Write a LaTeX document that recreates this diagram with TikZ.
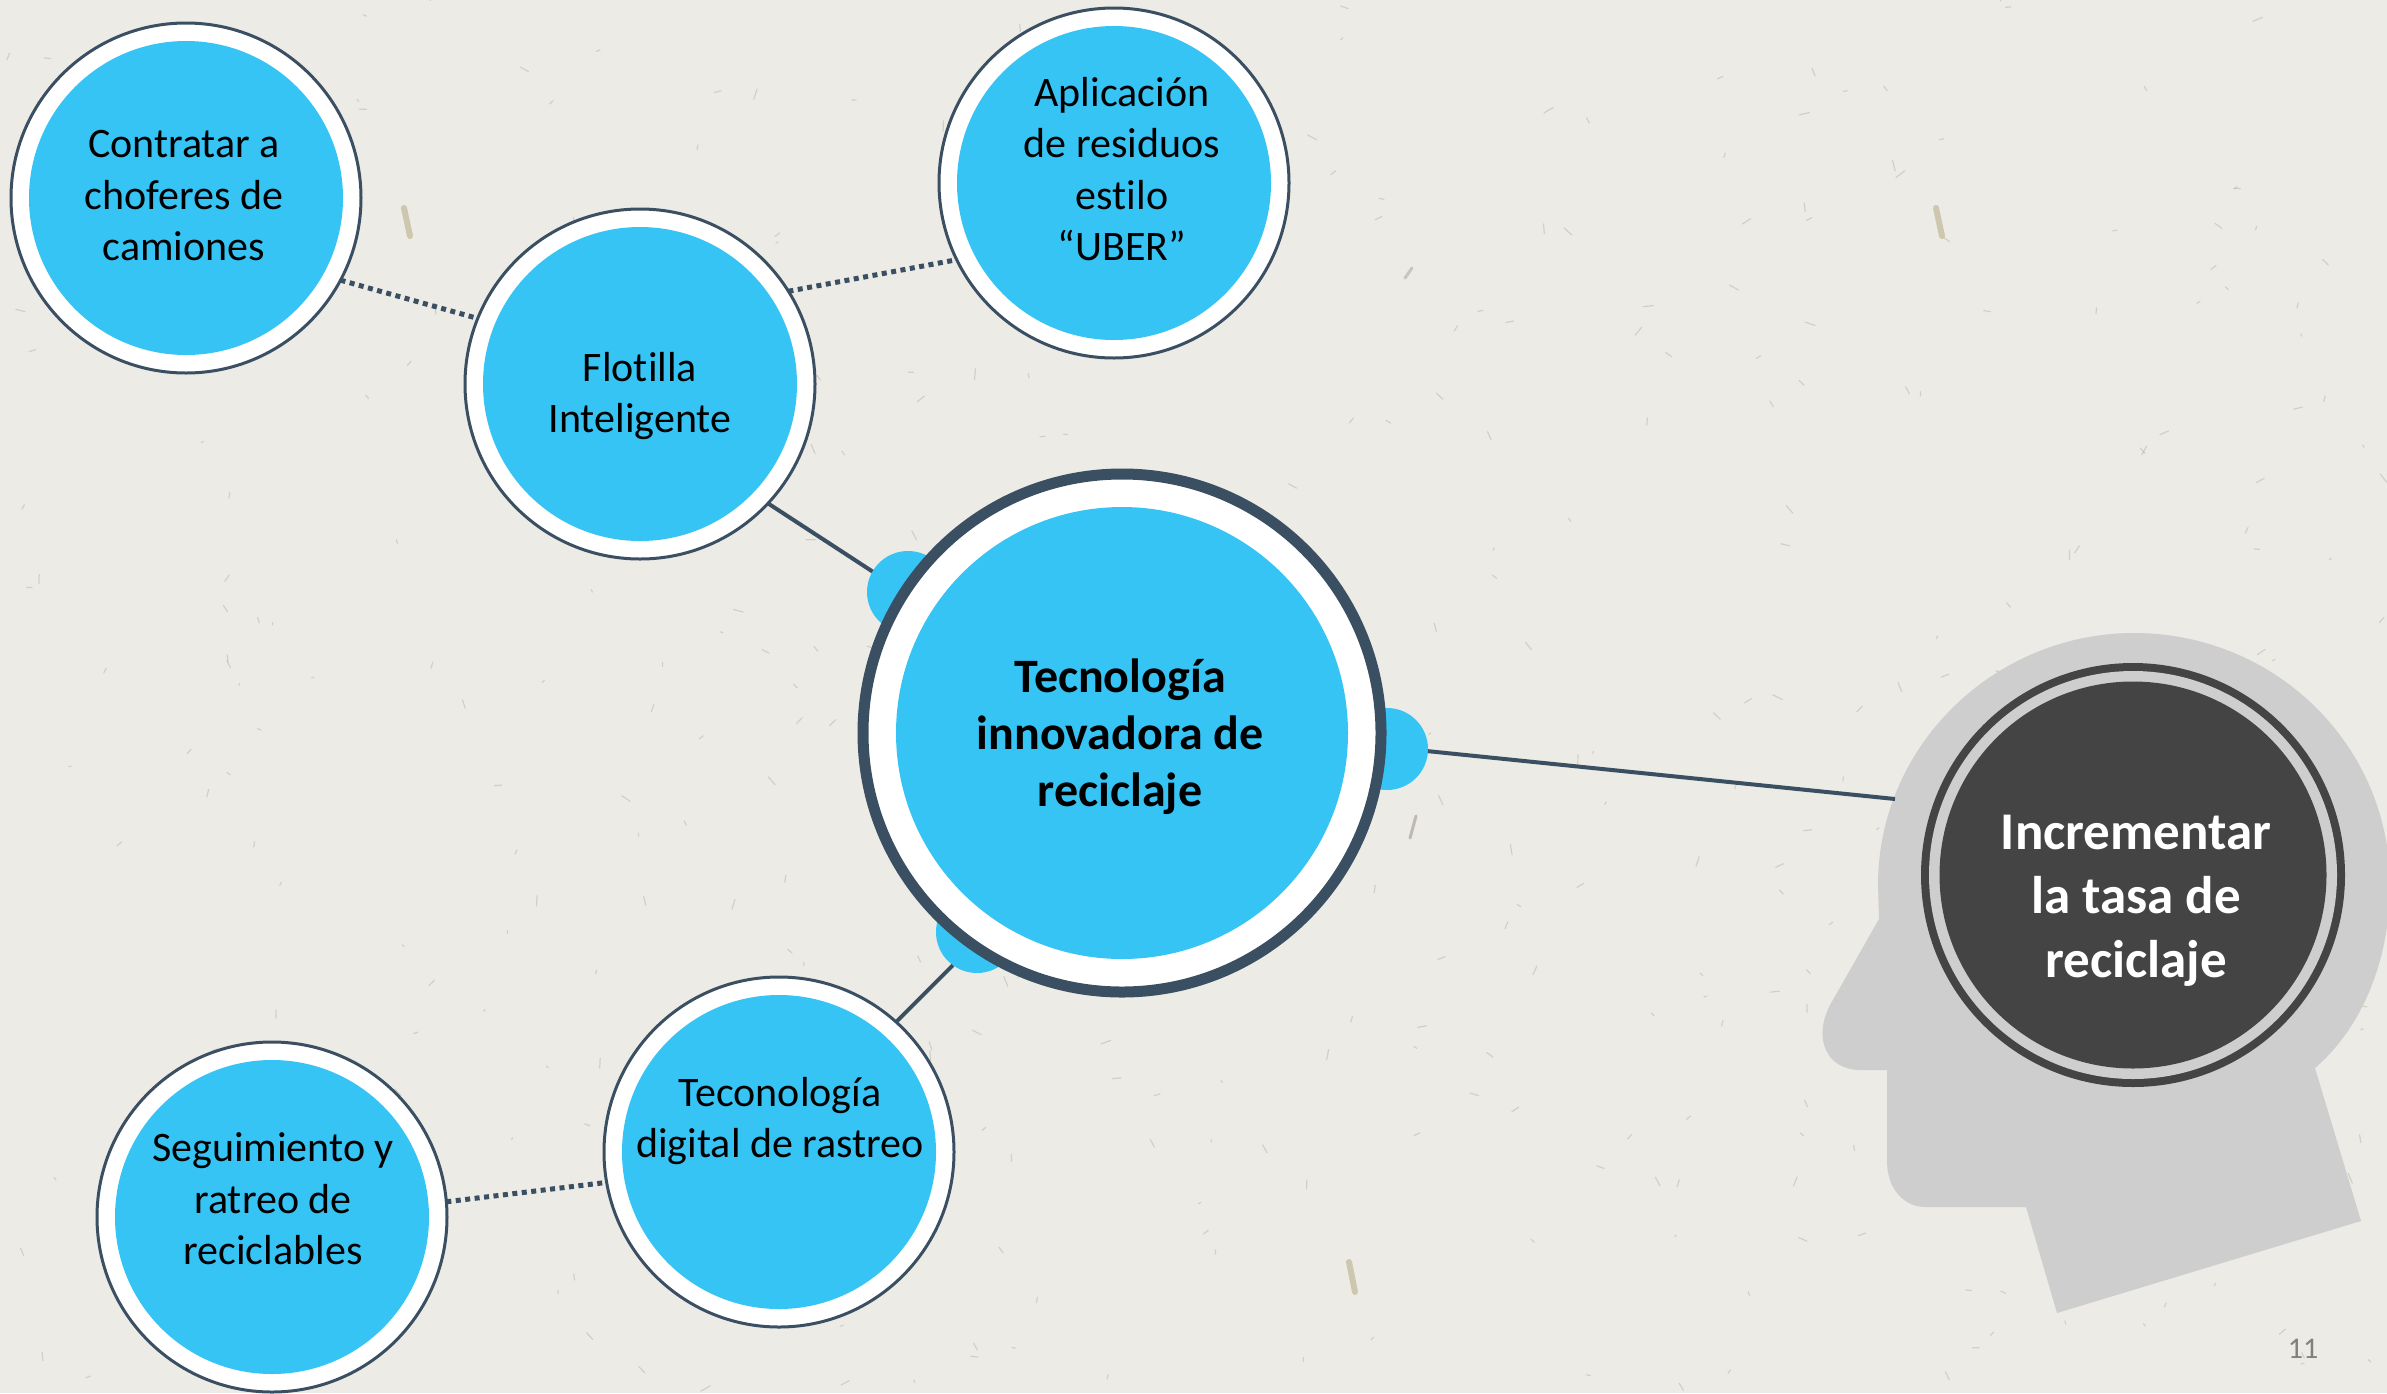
\documentclass[tikz,border=0pt]{standalone}
\usepackage{fontspec}
\setmainfont[Ligatures=NoCommon]{Carlito}
\definecolor{paper}{HTML}{EDEBE6}
\definecolor{speck}{HTML}{B3AEA3}
\definecolor{straw}{HTML}{C9C4A8}
\definecolor{skyb}{HTML}{36C4F5}
\definecolor{slate}{HTML}{3B4F63}
\definecolor{headg}{HTML}{CFCECF}
\definecolor{darkg}{HTML}{444444}
\tikzset{
  x=1pt,y=-1pt,
  ring/.style={circle,draw=slate,line width=3pt,fill=white,minimum size=350pt,inner sep=0pt,outer sep=0pt},
  disc/.style={circle,fill=skyb,minimum size=314pt,inner sep=0pt,outer sep=0pt},
  bump/.style={circle,fill=skyb,minimum size=82pt,inner sep=0pt,outer sep=0pt},
  lab/.style={align=center,text=black,inner sep=0pt,font=\fontsize{42}{51.5}\selectfont},
  bold lab/.style={align=center,text=black,inner sep=0pt,font=\fontsize{48}{57}\selectfont\bfseries},
  solidlink/.style={draw=slate,line width=4pt},
  dotlink/.style={draw=slate,line width=5pt,dash pattern=on 5pt off 4.5pt},
  fleck/.style={draw=speck,line cap=round},
}
\begin{document}
\begin{tikzpicture}
\useasboundingbox (0,0) rectangle (2387,1393);
\fill[paper] (0,0) rectangle (2387,1393);
% paper texture
\pgfmathsetseed{4711}
\foreach \i in {1,...,420}{
  \pgfmathsetmacro{\px}{rnd*2387}
  \pgfmathsetmacro{\py}{rnd*1393}
  \pgfmathsetmacro{\pa}{rnd*360}
  \pgfmathsetmacro{\pl}{2+rnd*9}
  \draw[fleck,line width=1.2pt,opacity=.45] (\px,\py) -- ++(\pa:\pl);
}
\draw[fleck,line width=6pt,opacity=.9,draw=straw] (404,208) -- (410,236);
\draw[fleck,line width=6pt,opacity=.9,draw=straw] (1936,208) -- (1942,236);
\draw[fleck,line width=6pt,opacity=.9,draw=straw] (1349,1262) -- (1355,1292);
\draw[fleck,line width=3pt,opacity=.8] (1410,838) -- (1416,816);
\draw[fleck,line width=3pt,opacity=.6] (1405,278) -- (1412,268);
% head
\fill[headg] (1879,919) -- (1830,1005) .. controls (1812,1040) and (1828,1070) .. (1860,1070)
  -- (1887,1070) -- (1887,1161) .. controls (1887,1190) and (1905,1207) .. (1925,1207)
  -- (2026,1207) -- (2057,1313) -- (2361,1221) -- (2315,1068)
  .. controls (2365,1025) and (2390,955) .. (2390,885)
  .. controls (2390,745) and (2275,633) .. (2134,633)
  .. controls (1995,633) and (1878,745) .. (1878,885) -- cycle;
% bumps
\node[bump] (bumpL) at (908,592) {};
\node[bump] (bumpR) at (1387,749) {};
\node[bump] (bumpB) at (977,932) {};
% rings
\node[ring] (contr) at (186,198) {};
\node[disc] at (contr.center) {};
\node[ring] (flot) at (640,384) {};
\node[disc] at (flot.center) {};
\node[ring] (apl) at (1114,183) {};
\node[disc] at (apl.center) {};
\node[ring] (tec) at (779,1152) {};
\node[disc] at (tec.center) {};
\node[ring] (seg) at (272,1217) {};
\node[disc] at (seg.center) {};
\node[ring,line width=11pt,minimum size=518pt] (ctr) at (1122,733) {};
\node[disc,minimum size=452pt] at (ctr.center) {};
% brain
\node[circle,fill=darkg,minimum size=424pt,inner sep=0pt,outer sep=0pt] (goal) at (2133,875) {};
\node[circle,fill=headg,minimum size=408pt,inner sep=0pt] at (goal.center) {};
\node[circle,fill=darkg,minimum size=387pt,inner sep=0pt] at (goal.center) {};
\coordinate (headedge) at (1895,799);
% connectors
\draw[solidlink] (flot.-43) -- (bumpL.150);
\draw[solidlink] (tec.48) -- (bumpB.234);
\draw[solidlink] (bumpR.-3) -- (headedge);
\draw[dotlink] (contr.-28) -- (flot.158);
\draw[dotlink] (flot.32) -- (apl.206);
\draw[dotlink] (seg.5) -- (tec.190);
% labels
\node[lab] (tcontr) at (184,196) {Contratar a\\choferes de\\camiones};
\node[lab] (tflot) at (640,396) {Flotilla\\Inteligente};
\node[lab] (tapl) at (1122,169) {Aplicación\\de residuos\\estilo\\“UBER”};
\node[lab] (ttec) at (780,1121) {Teconología\\digital de rastreo};
\node[lab] (tseg) at (273,1199) {Seguimiento y\\ratreo de\\reciclables};
\node[bold lab] (tctr) at (1120,737) {Tecnología\\innovadora de\\reciclaje};
\node[align=center,text=white,inner sep=0pt,font=\fontsize{53}{64}\selectfont\bfseries] (tgoal) at (2136,901) {Incrementar\\la tasa de\\reciclaje};
\node[text=black!50,inner sep=0pt,font=\fontsize{30}{34}\selectfont] (pg) at (2303,1349) {11};
\end{tikzpicture}
\end{document}
